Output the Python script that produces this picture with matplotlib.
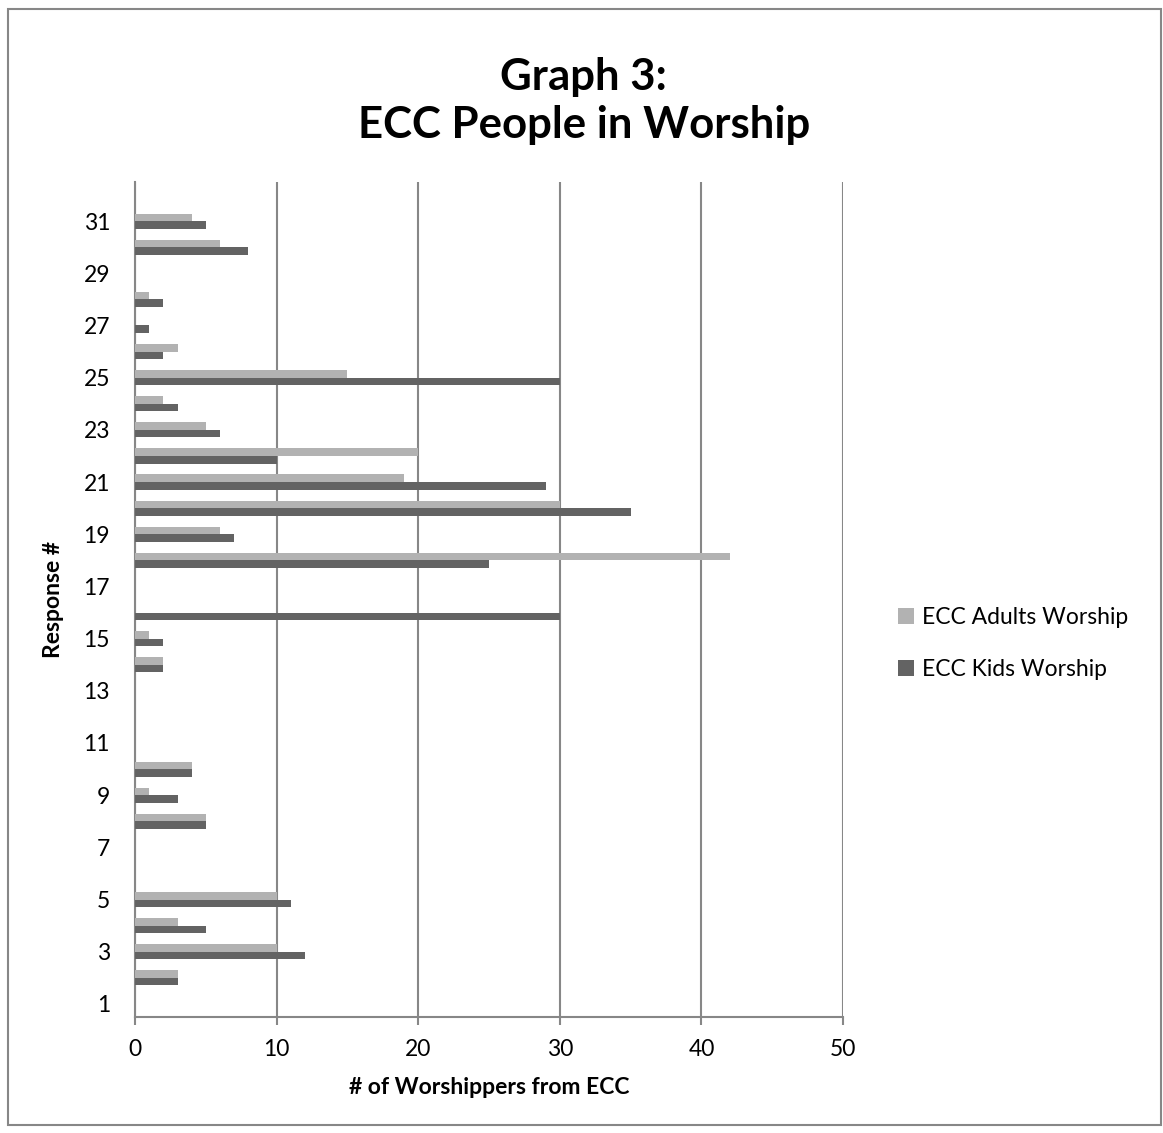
import numpy as np
import matplotlib.pyplot as plt
from matplotlib.patches import Rectangle

plt.rcParams['font.family'] = ['Lato', 'DejaVu Sans']

# response numbers and worshipper counts
responses = list(range(1, 32))
adults = [0, 3, 10, 3, 10, 0, 0, 5, 1, 4, 0, 0, 0, 2, 1, 0, 0, 42, 6, 30,
          19, 20, 5, 2, 15, 3, 0, 1, 0, 6, 4]
kids = [0, 3, 12, 5, 11, 0, 0, 5, 3, 4, 0, 0, 0, 2, 2, 30, 0, 25, 7, 35,
        29, 10, 6, 3, 30, 2, 1, 2, 0, 8, 5]
x_ticks = [0, 10, 20, 30, 40, 50]
y_ticks = list(range(1, 32, 2))

light = '#b2b2b2'
dark = '#636363'
grid_col = '#878787'

fig = plt.figure(figsize=(11.63, 11.33), dpi=100)
ax = fig.add_axes([0.1161, 0.1024, 0.6088, 0.737])

y = np.array(responses)
h = 0.29
ax.barh(y + h / 2, adults, height=h, color=light, label='ECC Adults Worship', zorder=3)
ax.barh(y - h / 2, kids, height=h, color=dark, label='ECC Kids Worship', zorder=3)

ax.set_xlim(0, 50)
ax.set_ylim(0.5, 32.5)
ax.set_xticks(x_ticks)
ax.set_yticks(y_ticks)
ax.tick_params(axis='x', length=6, width=1.5, color=grid_col, labelsize=16.5, pad=10)
ax.tick_params(axis='y', length=0, labelsize=16.5, pad=18)
ax.grid(axis='x', color=grid_col, linewidth=1.5, zorder=0)
for s in ['top', 'right']:
    ax.spines[s].set_visible(False)
for s in ['left', 'bottom']:
    ax.spines[s].set_color(grid_col)
    ax.spines[s].set_linewidth(1.5)

ax.set_xlabel('# of Worshippers from ECC', fontsize=16.5, fontweight='bold', labelpad=12)
ax.set_ylabel('Response #', fontsize=16.5, fontweight='bold', labelpad=14)

fig.text(0.502, 0.911, 'Graph 3:\nECC People in Worship', ha='center', va='center',
         fontsize=31.5, fontweight='bold', linespacing=1.25)

leg = fig.legend(loc='center left', bbox_to_anchor=(0.754, 0.432), frameon=False,
                 fontsize=16.5, handlelength=0.7, handleheight=0.7, handletextpad=0.35,
                 labelspacing=1.35)

fig.patches.append(Rectangle((0.007, 0.007), 0.991, 0.985, transform=fig.transFigure,
                             fill=False, edgecolor=grid_col, linewidth=1.5))

fig.savefig('out.png', dpi=100)
